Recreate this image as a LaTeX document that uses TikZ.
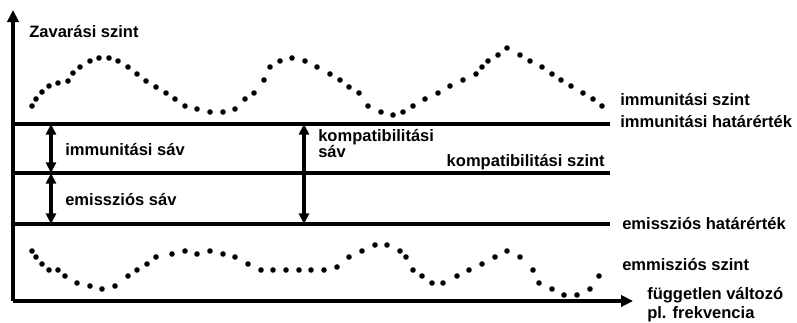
\documentclass[tikz,border=0pt]{standalone}
\usepackage{fontspec}
\setmainfont{Liberation Sans}
\usetikzlibrary{arrows.meta}
\tikzset{
  lbl/.style={anchor=base west, inner sep=0pt, font=\fontsize{12.4pt}{15pt}\selectfont\bfseries},
  level/.style={line width=2.3pt},
  axis/.style={line width=2.3pt, -{Triangle[length=9pt,width=8.5pt]}},
  band/.style={line width=2.6pt, {Triangle[length=8pt,width=7.5pt]}-{Triangle[length=8pt,width=7.5pt]}},
  dot/.style={fill=black}
}
\begin{document}
\begin{tikzpicture}[x=0.75pt,y=-0.75pt]
\useasboundingbox (0,0) rectangle (797,322);
% coordinates
\coordinate (O) at (13,301);
\coordinate (Ytop) at (13,10);
\coordinate (Xend) at (633,301);
\coordinate (iL) at (13,124); \coordinate (iR) at (610,124);
\coordinate (kL) at (13,173); \coordinate (kR) at (610,173);
\coordinate (eL) at (13,224); \coordinate (eR) at (610,224);
\coordinate (a1) at (51,124); \coordinate (a2) at (51,173); \coordinate (a3) at (51,224);
\coordinate (b1) at (304,124); \coordinate (b2) at (304,224);
% axes
\draw[axis] (O) -- (Ytop);
\draw[axis] (O) -- (Xend);
% levels
\draw[level] (iL) -- (iR);
\draw[level] (kL) -- (kR);
\draw[level] (eL) -- (eR);
% bands
\draw[band] (a1) -- (a2);
\draw[band] (a2) -- (a3);
\draw[band] (b1) -- (b2);
% dotted curves
\foreach \p in {(32,106),(36,99),(42,92),(49,86),(58,83),(68,81),(73,73),(80,67),(90,61),(99,58),(109,58),(118,61),(128,67),(137,74),(146,81),(156,87),(166,93),(175,99),(185,106),(197,109),(210,112),(223,112),(235,109),(245,99),(254,93),(264,80),(270,67),(280,61),(292,58),(305,61),(317,67),(330,74),(340,80),(349,87),(359,93),(368,106),(381,112),(393,115),(403,112),(413,106),(425,99),(438,93),(450,86),(463,80),(476,74),(482,67),(488,61),(498,55),(507,48),(520,55),(530,61),(542,67),(552,74),(561,80),(571,86),(583,93),(593,99),(602,106)}
  \fill[dot] \p circle (2.8);
\foreach \p in {(32,251),(36,257),(42,264),(49,270),(58,270),(65,276),(77,283),(90,286),(102,289),(115,286),(128,276),(137,270),(147,264),(156,257),(172,254),(185,251),(197,254),(210,251),(223,254),(235,257),(248,264),(261,270),(273,270),(286,270),(299,270),(311,270),(324,270),(337,267),(349,257),(362,251),(375,245),(387,245),(400,251),(406,257),(413,270),(422,276),(432,283),(443,283),(457,276),(469,270),(482,264),(495,257),(507,251),(520,257),(533,270),(539,283),(552,289),(564,295),(577,295),(590,289),(599,276)}
  \fill[dot] \p circle (2.8);
% labels
\node[lbl] (tY) at (29,37) {Zavarási szint};
\node[lbl] (tIS) at (620,105) {immunitási szint};
\node[lbl] (tIH) at (620,127) {immunitási határérték};
\node[lbl] (tISav) at (65,155) {immunitási sáv};
\node[lbl] (tESav) at (65,205) {emissziós sáv};
\node[lbl] (tK1) at (318,141) {kompatibilitási};
\node[lbl] (tK2) at (318,157) {sáv};
\node[lbl, anchor=base east] (tKS) at (605,166) {kompatibilitási szint};
\node[lbl] (tEH) at (622,229) {emissziós határérték};
\node[lbl] (tES) at (622,270) {emmisziós szint};
\node[lbl] (tX1) at (647,299) {független változó};
\node[lbl] (tX2) at (647,318) {pl. frekvencia};
\end{tikzpicture}
\end{document}
